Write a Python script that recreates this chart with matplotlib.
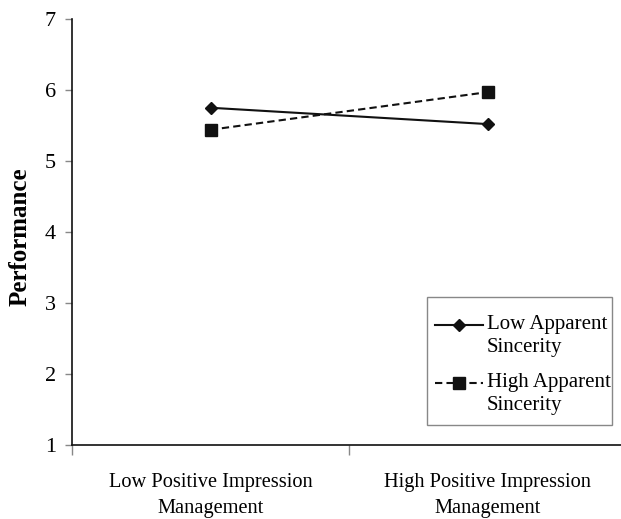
import matplotlib
matplotlib.use("Agg")
import matplotlib.pyplot as plt
from matplotlib.patches import Rectangle
from matplotlib.ticker import FixedLocator, NullFormatter

categories = ["Low Positive Impression\nManagement", "High Positive Impression\nManagement"]
low_sincerity = [5.75, 5.52]
high_sincerity = [5.44, 5.97]
series_names = ["Low Apparent\nSincerity", "High Apparent\nSincerity"]
y_ticks = [1, 2, 3, 4, 5, 6, 7]

plt.rcParams['font.family'] = ['Liberation Serif', 'DejaVu Serif']

fig = plt.figure(figsize=(6.21, 5.19), dpi=100)
ax = fig.add_axes([72/621, (519-445)/519, (626-72)/621, (445-19)/519])

x = list(range(len(categories)))
ax.plot(x, low_sincerity, color='#111111', lw=1.5, marker='D', ms=6.5,
        label=series_names[0])
ax.plot(x, high_sincerity, color='#111111', lw=1.5, ls=(0, (3.5, 2)), marker='s', ms=8,
        label=series_names[1])

ax.set_xlim(-0.5, 1.5)
ax.set_ylim(1, 7)
ax.set_yticks(y_ticks)
ax.set_xticks(x)
ax.set_xticklabels(categories, fontsize=14.7, linespacing=1.55)
ax.tick_params(axis='x', length=0, pad=20)
ax.xaxis.set_minor_locator(FixedLocator([-0.5, 0.5, 1.5]))
ax.xaxis.set_minor_formatter(NullFormatter())
ax.tick_params(axis='x', which='minor', length=7, color='#888888', width=1)
ax.tick_params(axis='y', length=5, color='#888888', width=1, labelsize=16, pad=6.5)

for s in ['top', 'right']:
    ax.spines[s].set_visible(False)
for s in ['left', 'bottom']:
    ax.spines[s].set_color('#111111')
    ax.spines[s].set_linewidth(1.2)

ax.set_ylabel("Performance", fontsize=18, fontweight='bold')
ax.yaxis.set_label_coords(-0.0722, 0.49)

leg = ax.legend(loc='upper left', bbox_to_anchor=(0.6552, 0.305), fontsize=15,
                frameon=False, handlelength=2.3, handletextpad=0.2, borderpad=0,
                labelspacing=0.75, borderaxespad=0)
for t in leg.get_texts():
    t.set_linespacing(1.3)
for h in leg.legend_handles:
    h.set_ydata([y + 7.5 for y in h.get_ydata()])

ax.add_patch(Rectangle(((427-72)/554, (445-425)/426), (612-427)/554, (425-297)/426,
                       transform=ax.transAxes, fill=False, edgecolor='#888888',
                       linewidth=1.0, clip_on=False, zorder=5))

fig.savefig("out.png", dpi=100)
